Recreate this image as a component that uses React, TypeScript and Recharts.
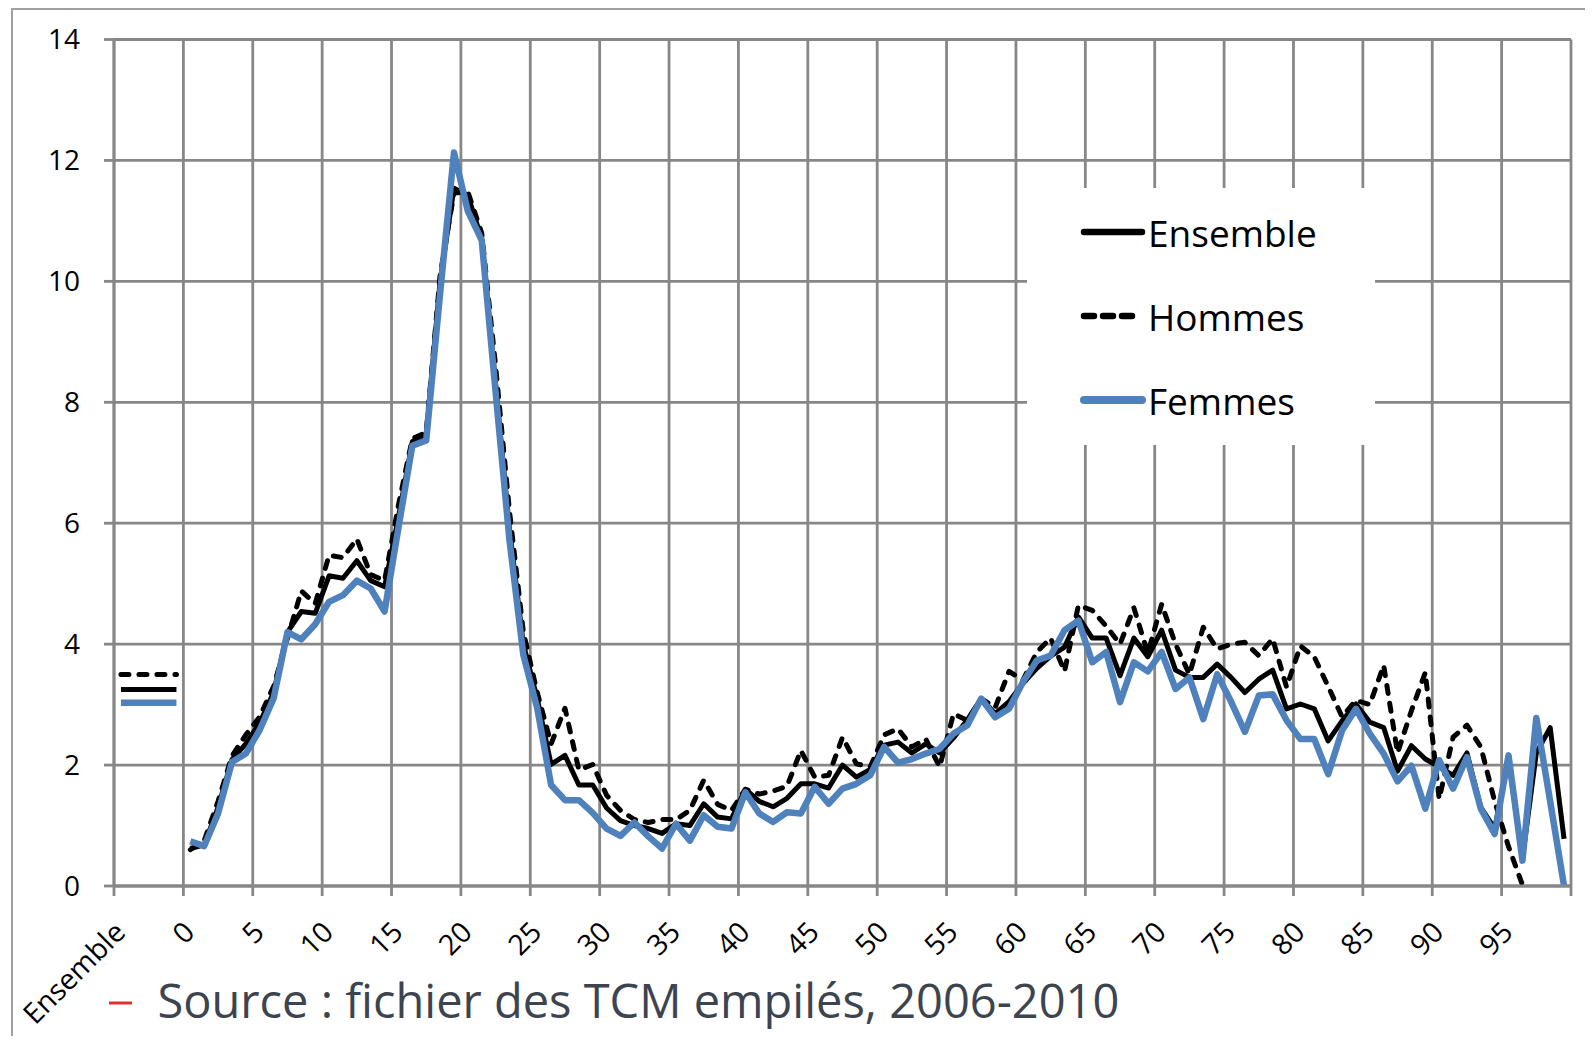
import { LineChart, Line, XAxis, YAxis, CartesianGrid } from "recharts";

const tickLabels = ["Ensemble", "0", "5", "10", "15", "20", "25", "30", "35", "40", "45", "50", "55", "60", "65", "70", "75", "80", "85", "90", "95", ""];
const yTicks = [0, 2, 4, 6, 8, 10, 12, 14];

// values for the "Ensemble" column (all ages)
const overallEnsemble = 3.25;
const overallHommes = 3.5;
const overallFemmes = 3.03;

const ages = Array.from({ length: 100 }, (_, i) => i);

const ensemble = [
  0.62, 0.68, 1.3, 2.09, 2.35, 2.7, 3.2, 4.2, 4.54, 4.51,
  5.13, 5.09, 5.38, 5.05, 4.95, 6.1, 7.35, 7.45, 10.0, 11.54,
  11.42, 10.7, 8.3, 5.9, 4.0, 3.1, 2.01, 2.16, 1.67, 1.67,
  1.29, 1.08, 1.0, 0.95, 0.87, 1.03, 1.0, 1.36, 1.14, 1.11,
  1.6, 1.4, 1.31, 1.45, 1.69, 1.69, 1.62, 2.0, 1.8, 1.93,
  2.33, 2.38, 2.2, 2.35, 2.2, 2.45, 2.75, 3.1, 2.85, 3.05,
  3.35, 3.6, 3.8, 3.95, 4.45, 4.1, 4.1, 3.48, 4.1, 3.79,
  4.23, 3.57, 3.45, 3.45, 3.67, 3.45, 3.2, 3.42, 3.57, 2.93,
  3.01, 2.93, 2.4, 2.73, 3.01, 2.71, 2.62, 1.9, 2.32, 2.1,
  1.97, 1.83, 2.2, 1.3, 0.95, 2.1, 0.45, 2.2, 2.62, 0.78,
];

const hommes = [
  0.6, 0.75, 1.4, 2.15, 2.5, 2.8, 3.3, 4.1, 4.88, 4.67,
  5.47, 5.43, 5.74, 5.15, 5.05, 6.3, 7.4, 7.5, 10.1, 11.46,
  11.48, 10.8, 8.6, 6.2, 4.2, 3.2, 2.35, 2.94, 1.92, 2.01,
  1.5, 1.25, 1.1, 1.05, 1.1, 1.1, 1.25, 1.75, 1.35, 1.25,
  1.6, 1.52, 1.57, 1.65, 2.24, 1.8, 1.83, 2.46, 2.02, 1.97,
  2.5, 2.6, 2.3, 2.43, 1.97, 2.85, 2.74, 3.1, 2.95, 3.55,
  3.4, 3.87, 4.1, 3.55, 4.64, 4.56, 4.3, 4.0, 4.6, 3.85,
  4.66, 4.0, 3.5, 4.28, 3.92, 4.0, 4.03, 3.81, 4.09, 3.29,
  3.97, 3.79, 3.3, 2.8, 3.07, 3.0, 3.65, 2.2, 2.9, 3.53,
  1.44, 2.46, 2.66, 2.3, 1.4, 0.65, 0.02, null, null, null,
];

const femmes = [
  0.74, 0.66, 1.2, 2.05, 2.19, 2.58, 3.1, 4.2, 4.08, 4.33,
  4.7, 4.81, 5.05, 4.92, 4.54, 5.93, 7.28, 7.37, 9.8, 12.13,
  11.16, 10.68, 8.17, 5.72, 3.82, 2.94, 1.67, 1.42, 1.42, 1.21,
  0.95, 0.83, 1.05, 0.82, 0.62, 1.03, 0.75, 1.17, 0.98, 0.95,
  1.55, 1.2, 1.06, 1.22, 1.2, 1.64, 1.36, 1.61, 1.69, 1.83,
  2.3, 2.04, 2.1, 2.19, 2.27, 2.52, 2.66, 3.1, 2.79, 2.93,
  3.37, 3.73, 3.81, 4.23, 4.39, 3.7, 3.87, 3.04, 3.7, 3.55,
  3.87, 3.26, 3.45, 2.76, 3.5, 3.05, 2.55, 3.15, 3.17, 2.74,
  2.43, 2.43, 1.85, 2.57, 2.93, 2.52, 2.19, 1.73, 1.99, 1.28,
  2.08, 1.61, 2.13, 1.28, 0.86, 2.16, 0.42, 2.78, 1.4, 0.0,
];

// the "Ensemble" column takes 5 category slots, ages follow
const SLOTS_BEFORE_AGES = 5;
const TOTAL_SLOTS = SLOTS_BEFORE_AGES + ages.length;

const data = [
  ...[0, 1, 2, 3, 4].map((i) => ({
    pos: i + 0.5,
    ensAll: overallEnsemble,
    homAll: overallHommes,
    femAll: overallFemmes,
  })),
  ...ages.map((age, i) => ({
    pos: SLOTS_BEFORE_AGES + age + 0.5,
    ensemble: ensemble[i],
    hommes: hommes[i],
    femmes: femmes[i],
  })),
];

const xTicks = tickLabels.map((_, i) => i * 5);

const FONT = "'Open Sans', 'Noto Sans', sans-serif";
const GRID = "#878787";
const BLUE = "#4f81bd";
const DASH = "8 10";

function AgeTick({ x, y, payload }: any) {
  const label = tickLabels[Math.round(payload.value / 5)] ?? "";
  const ax = x + 13;
  const ay = y + 38;
  return (
    <text
      x={ax}
      y={ay}
      textAnchor="end"
      transform={`rotate(-45 ${ax} ${ay})`}
      fontFamily={FONT}
      fontSize={28.5}
      fill="#000"
    >
      {label}
    </text>
  );
}

const legendItems = [
  { name: "Ensemble", color: "#000", width: 6.5, dash: undefined },
  { name: "Hommes", color: "#000", width: 6.5, dash: "10 9" },
  { name: "Femmes", color: BLUE, width: 8, dash: undefined },
];

function LegendBox() {
  return (
    <div
      style={{
        position: "absolute",
        left: 1019,
        top: 180,
        width: 348,
        height: 257,
        background: "#fff",
      }}
    >
      {legendItems.map((it, i) => (
        <div
          key={it.name}
          style={{
            position: "absolute",
            left: 52,
            top: 44 + i * 84 - 25,
            height: 50,
            display: "flex",
            alignItems: "center",
          }}
        >
          <svg width={68} height={20}>
            <line
              x1={5}
              x2={it.dash ? 58 : 63}
              y1={10}
              y2={10}
              stroke={it.color}
              strokeWidth={it.width}
              strokeLinecap="round"
              strokeDasharray={it.dash}
            />
          </svg>
          <span style={{ fontFamily: FONT, fontSize: 37, color: "#000", marginLeft: 1 }}>{it.name}</span>
        </div>
      ))}
    </div>
  );
}

export default function App() {
  return (
    <div style={{ position: "relative", width: 1577, height: 1028 }}>
      <div
        style={{
          position: "absolute",
          left: 3,
          top: 0,
          width: 1574,
          height: 1028,
          borderLeft: "2px solid #a0a0a0",
          borderTop: "2px solid #a0a0a0",
          boxSizing: "border-box",
        }}
      />
      <LineChart
        width={1577}
        height={1028}
        data={data}
        margin={{ top: 31.5, right: 14, left: 0, bottom: 10 }}
      >
        <CartesianGrid stroke={GRID} strokeWidth={2.8} />
        <XAxis
          dataKey="pos"
          type="number"
          domain={[0, TOTAL_SLOTS]}
          ticks={xTicks.concat([TOTAL_SLOTS]).filter((v, i, a) => a.indexOf(v) === i)}
          interval={0}
          height={140}
          tickSize={10}
          tickMargin={0}
          axisLine={{ stroke: GRID, strokeWidth: 3.2 }}
          tickLine={{ stroke: GRID, strokeWidth: 2.8 }}
          tick={<AgeTick />}
          allowDecimals={false}
        />
        <YAxis
          domain={[0, 14]}
          ticks={yTicks}
          width={106}
          tickSize={10}
          tickMargin={24}
          axisLine={{ stroke: GRID, strokeWidth: 2.8 }}
          tickLine={{ stroke: GRID, strokeWidth: 2.8 }}
          tick={{ fontFamily: FONT, fontSize: 28, fill: "#000" }}
        />
        <Line dataKey="homAll" stroke="#000" strokeWidth={5} strokeDasharray={DASH} strokeLinecap="round" dot={false} isAnimationActive={false} legendType="none" />
        <Line dataKey="ensAll" stroke="#000" strokeWidth={5} dot={false} isAnimationActive={false} legendType="none" />
        <Line dataKey="femAll" stroke={BLUE} strokeWidth={6.5} dot={false} isAnimationActive={false} legendType="none" />
        <Line dataKey="hommes" stroke="#000" strokeWidth={5} strokeDasharray={DASH} strokeLinecap="round" strokeLinejoin="round" dot={false} isAnimationActive={false} />
        <Line dataKey="ensemble" stroke="#000" strokeWidth={5} strokeLinejoin="round" dot={false} isAnimationActive={false} />
        <Line dataKey="femmes" stroke={BLUE} strokeWidth={6.5} strokeLinejoin="round" dot={false} isAnimationActive={false} />
      </LineChart>
      <LegendBox />
      <svg
        width={1577}
        height={1028}
        style={{ position: "absolute", left: 0, top: 0, pointerEvents: "none" }}
      >
        <line x1={101} x2={124} y1={995} y2={995} stroke="#e0302a" strokeWidth={3} />
        <text x={149.5} y={1010} fontFamily={FONT} fontSize={47} fill="#3c4450">
          Source : fichier des TCM empilés, 2006-2010
        </text>
      </svg>
    </div>
  );
}
